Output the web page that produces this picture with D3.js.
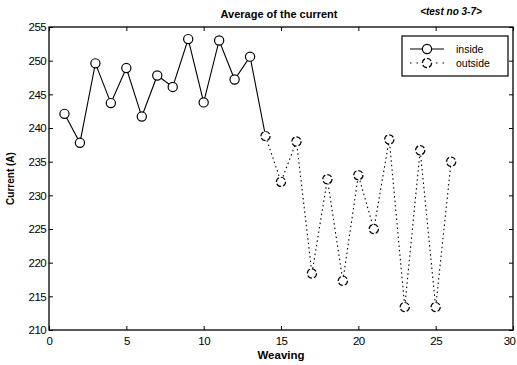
<!DOCTYPE html>
<html>
<head>
<meta charset="utf-8">
<script src="https://cdn.jsdelivr.net/npm/d3@7"></script>
<style>
  body { margin: 0; background: #fff; }
  text { font-family: "Liberation Sans", Arial, sans-serif; }
</style>
</head>
<body>
<div id="chart"></div>
<script>
// weaving index and average current (A)
const insideX = [1, 2, 3, 4, 5, 6, 7, 8, 9, 10, 11, 12, 13, 14];
const insideY = [242.1, 237.8, 249.6, 243.7, 248.9, 241.7, 247.8, 246.1, 253.2, 243.8, 253.0, 247.2, 250.6, 238.8];
const outsideX = [14, 15, 16, 17, 18, 19, 20, 21, 22, 23, 24, 25, 26];
const outsideY = [238.8, 232.0, 238.0, 218.4, 232.4, 217.3, 233.0, 225.0, 238.3, 213.4, 236.7, 213.4, 235.0];
const xTicks = [0, 5, 10, 15, 20, 25, 30];
const yTicks = [210, 215, 220, 225, 230, 235, 240, 245, 250, 255];

const W = 517, H = 365;
const margin = { top: 27, right: 4, bottom: 35, left: 49 };

const svg = d3.select('#chart').append('svg')
    .attr('width', W).attr('height', H);

const x = d3.scaleLinear().domain([0, 30]).range([margin.left, W - margin.right]);
const y = d3.scaleLinear().domain([210, 255]).range([H - margin.bottom, margin.top]);

// frame
svg.append('rect')
    .attr('x', margin.left).attr('y', margin.top)
    .attr('width', x(30) - x(0)).attr('height', y(210) - y(255))
    .attr('fill', 'none').attr('stroke', '#000').attr('stroke-width', 1.3);

// axes, ticks inside like matlab
svg.append('g')
    .attr('transform', `translate(0,${y(210)})`)
    .call(d3.axisBottom(x).tickValues(xTicks).tickSize(-4).tickPadding(7));
svg.append('g')
    .attr('transform', `translate(0,${y(255)})`)
    .call(d3.axisTop(x).tickValues(xTicks).tickSize(-4).tickFormat(''));
svg.append('g')
    .attr('transform', `translate(${x(0)},0)`)
    .call(d3.axisLeft(y).tickValues(yTicks).tickSize(-4).tickPadding(3));
svg.append('g')
    .attr('transform', `translate(${x(30)},0)`)
    .call(d3.axisRight(y).tickValues(yTicks).tickSize(-4).tickFormat(''));

svg.selectAll('.domain').remove();
svg.selectAll('.tick line').attr('stroke', '#000');
svg.selectAll('.tick text')
    .attr('fill', '#000')
    .style('font-size', '11.5px')
    .style('letter-spacing', '-0.6px');
// last x label sits at the page edge
svg.selectAll('.tick text').filter(d => d === 30).attr('dx', '-4');

const line = d3.line().x(d => x(d[0])).y(d => y(d[1]));
const inside = d3.zip(insideX, insideY);
const outside = d3.zip(outsideX, outsideY);

svg.append('path').datum(outside)
    .attr('d', line).attr('fill', 'none')
    .attr('stroke', '#000').attr('stroke-width', 1.1)
    .attr('stroke-dasharray', '1.5,3');
svg.append('path').datum(inside)
    .attr('d', line).attr('fill', 'none')
    .attr('stroke', '#000').attr('stroke-width', 1.1);

svg.append('g').selectAll('circle').data(inside.slice(0, -1)).enter().append('circle')
    .attr('cx', d => x(d[0])).attr('cy', d => y(d[1])).attr('r', 4.6)
    .attr('fill', '#fff').attr('stroke', '#000').attr('stroke-width', 1.2);
svg.append('g').selectAll('circle').data(outside).enter().append('circle')
    .attr('cx', d => x(d[0])).attr('cy', d => y(d[1])).attr('r', 4.6)
    .attr('fill', '#fff').attr('stroke', '#000').attr('stroke-width', 1.2)
    .attr('stroke-dasharray', '5,2');

// titles
svg.append('text')
    .attr('x', 279).attr('y', 18).attr('text-anchor', 'middle')
    .style('font-size', '11px').style('font-weight', 'bold')
    .text('Average of the current');
svg.append('text')
    .attr('x', 451).attr('y', 15).attr('text-anchor', 'middle')
    .style('font-size', '10px').style('font-weight', 'bold').style('font-style', 'italic')
    .text('<test no 3-7>');
svg.append('text')
    .attr('x', 281).attr('y', 359).attr('text-anchor', 'middle')
    .style('font-size', '11.5px').style('font-weight', 'bold')
    .text('Weaving');
svg.append('text')
    .attr('transform', `translate(14,${(y(210) + y(255)) / 2}) rotate(-90)`)
    .attr('text-anchor', 'middle')
    .style('font-size', '10px').style('font-weight', 'bold')
    .text('Current (A)');

// legend
const lg = svg.append('g').attr('transform', 'translate(402,36)');
lg.append('rect').attr('width', 106).attr('height', 40)
    .attr('fill', '#fff').attr('stroke', '#000').attr('stroke-width', 1.2);
lg.append('line').attr('x1', 8).attr('x2', 42).attr('y1', 13).attr('y2', 13)
    .attr('stroke', '#000').attr('stroke-width', 1.1);
lg.append('circle').attr('cx', 25).attr('cy', 13).attr('r', 4.6)
    .attr('fill', '#fff').attr('stroke', '#000').attr('stroke-width', 1.2);
lg.append('line').attr('x1', 8).attr('x2', 42).attr('y1', 27).attr('y2', 27)
    .attr('stroke', '#000').attr('stroke-width', 1.1).attr('stroke-dasharray', '1.5,5');
lg.append('circle').attr('cx', 25).attr('cy', 27).attr('r', 4.6)
    .attr('fill', '#fff').attr('stroke', '#000').attr('stroke-width', 1.2)
    .attr('stroke-dasharray', '5,2');
lg.append('text').attr('x', 54).attr('y', 17).style('font-size', '10.5px').text('inside');
lg.append('text').attr('x', 54).attr('y', 31).style('font-size', '10.5px').text('outside');
</script>
</body>
</html>
